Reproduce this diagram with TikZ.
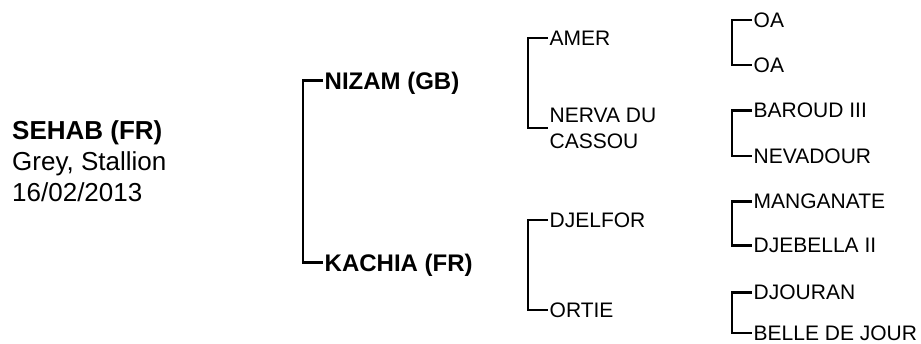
\documentclass[tikz,border=0pt]{standalone}
\usepackage{fontspec}
\setmainfont{Liberation Sans}
\begin{document}
\begin{tikzpicture}[x=1pt,y=-1pt,
  lbl/.style={inner xsep=1.5pt, inner ysep=0pt, anchor=west, text depth=0pt},
  gone/.style={lbl, font=\fontsize{24}{28}\selectfont\bfseries},
  gtwo/.style={lbl, font=\fontsize{21}{26}\selectfont, align=left},
  bracket/.style={line width=2.2pt, line join=miter}]
\useasboundingbox (0,0) rectangle (921,343);
% subject
\node[inner sep=0pt, anchor=base west, align=left, font=\fontsize{26}{31}\selectfont] (sehab) at (12,201)
  {\textbf{SEHAB (FR)}\\Grey, Stallion\\16/02/2013};
% generation 1
\node[gone] (nizam) at (323,80.5) {NIZAM (GB)};
\node[gone] (kachia) at (323,262.5) {KACHIA (FR)};
% generation 2
\node[gtwo] (amer) at (548,38) {AMER};
\node[gtwo] (nerva) at (548,128) {NERVA DU\\CASSOU};
\node[gtwo] (djelfor) at (548,220) {DJELFOR};
\node[gtwo] (ortie) at (548,310) {ORTIE};
% generation 3
\node[gtwo] (oa1) at (752,20) {OA};
\node[gtwo] (oa2) at (752,65) {OA};
\node[gtwo] (baroud) at (752,110.5) {BAROUD III};
\node[gtwo] (nevadour) at (752,156) {NEVADOUR};
\node[gtwo] (manganate) at (752,201.5) {MANGANATE};
\node[gtwo] (djebella) at (752,245.5) {DJEBELLA II};
\node[gtwo] (djouran) at (752,292.5) {DJOURAN};
\node[gtwo] (belle) at (752,333) {BELLE DE JOUR};
% brackets
\draw[bracket] (nizam.west) -- ++(-20,0) |- (kachia.west);
\draw[bracket] (amer.west) -- ++(-20,0) |- (nerva.west);
\draw[bracket] (djelfor.west) -- ++(-20,0) |- (ortie.west);
\draw[bracket] (oa1.west) -- ++(-20,0) |- (oa2.west);
\draw[bracket] (baroud.west) -- ++(-20,0) |- (nevadour.west);
\draw[bracket] (manganate.west) -- ++(-20,0) |- (djebella.west);
\draw[bracket] (djouran.west) -- ++(-20,0) |- (belle.west);
\end{tikzpicture}
\end{document}
